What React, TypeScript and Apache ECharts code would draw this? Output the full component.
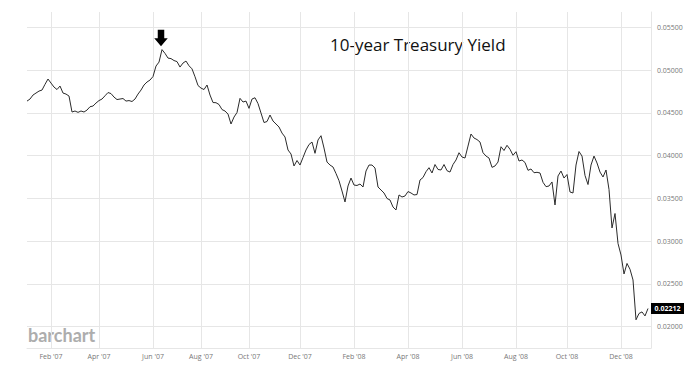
import React, { useEffect, useRef } from "react";
import * as echarts from "echarts";

const dates: string[] = [
  "2007-01-03","2007-01-08","2007-01-11","2007-01-15","2007-01-18","2007-01-22","2007-01-25","2007-01-29",
  "2007-02-01","2007-02-05","2007-02-08","2007-02-12","2007-02-15","2007-02-20","2007-02-23","2007-02-27",
  "2007-03-02","2007-03-06","2007-03-09","2007-03-13","2007-03-16","2007-03-20","2007-03-23","2007-03-28",
  "2007-04-02","2007-04-05","2007-04-09","2007-04-12","2007-04-16","2007-04-19","2007-04-23","2007-04-26","2007-04-30",
  "2007-05-03","2007-05-07","2007-05-10","2007-05-14","2007-05-17","2007-05-21","2007-05-24","2007-05-28","2007-05-30",
  "2007-06-01","2007-06-05","2007-06-09","2007-06-12","2007-06-16","2007-06-20","2007-06-24","2007-06-28",
  "2007-07-01","2007-07-05","2007-07-09","2007-07-13","2007-07-16","2007-07-20","2007-07-24","2007-07-28",
  "2007-08-01","2007-08-05","2007-08-09","2007-08-12","2007-08-16","2007-08-20","2007-08-24","2007-08-28","2007-08-31",
  "2007-09-04","2007-09-08","2007-09-12","2007-09-15","2007-09-19","2007-09-23","2007-09-27",
  "2007-10-01","2007-10-05","2007-10-08","2007-10-12","2007-10-16","2007-10-19","2007-10-23","2007-10-27","2007-10-30",
  "2007-11-03","2007-11-07","2007-11-10","2007-11-14","2007-11-18","2007-11-21","2007-11-25","2007-11-29",
  "2007-12-03","2007-12-06","2007-12-10","2007-12-13","2007-12-16","2007-12-20","2007-12-23","2007-12-27","2007-12-30",
  "2008-01-02","2008-01-06","2008-01-09","2008-01-13","2008-01-16","2008-01-19","2008-01-23","2008-01-26","2008-01-29",
  "2008-02-01","2008-02-04","2008-02-08","2008-02-11","2008-02-14","2008-02-18","2008-02-21","2008-02-24","2008-02-28",
  "2008-03-02","2008-03-05","2008-03-09","2008-03-12","2008-03-15","2008-03-19","2008-03-22","2008-03-25","2008-03-29",
  "2008-04-01","2008-04-04","2008-04-08","2008-04-11","2008-04-15","2008-04-18","2008-04-22","2008-04-25","2008-04-29",
  "2008-05-02","2008-05-06","2008-05-09","2008-05-13","2008-05-16","2008-05-20","2008-05-23","2008-05-27","2008-05-30",
  "2008-06-02","2008-06-05","2008-06-09","2008-06-12","2008-06-15","2008-06-19","2008-06-22","2008-06-25","2008-06-29",
  "2008-07-02","2008-07-05","2008-07-09","2008-07-12","2008-07-15","2008-07-19","2008-07-22","2008-07-25","2008-07-29",
  "2008-08-01","2008-08-05","2008-08-08","2008-08-12","2008-08-15","2008-08-19","2008-08-22","2008-08-26","2008-08-29",
  "2008-09-02","2008-09-05","2008-09-09","2008-09-12","2008-09-16","2008-09-19","2008-09-23","2008-09-26",
  "2008-10-01","2008-10-04","2008-10-08","2008-10-11","2008-10-15","2008-10-18","2008-10-21","2008-10-25","2008-10-28",
  "2008-11-01","2008-11-04","2008-11-07","2008-11-11","2008-11-14","2008-11-18","2008-11-21","2008-11-24","2008-11-28",
  "2008-12-01","2008-12-04","2008-12-08","2008-12-11","2008-12-14","2008-12-18","2008-12-21","2008-12-24","2008-12-28","2008-12-31",
  "2009-01-03",
];

const yields: number[] = [
  0.04638, 0.04662, 0.04709, 0.04732, 0.04755, 0.04767, 0.04834, 0.04896, 0.04849, 0.04802,
  0.04773, 0.04814, 0.04732, 0.0472, 0.04697, 0.0451, 0.04522, 0.04506, 0.04522, 0.0451,
  0.04533, 0.04572, 0.0458, 0.04615, 0.04644, 0.04662, 0.047, 0.04738, 0.04726, 0.04685,
  0.04656, 0.04662, 0.04668, 0.04638, 0.04644, 0.04633, 0.04662, 0.0472, 0.04767, 0.04826,
  0.04861, 0.04884, 0.04925, 0.05048, 0.05094, 0.0524, 0.05196, 0.05141, 0.05135, 0.05112,
  0.051, 0.05036, 0.05083, 0.05106, 0.05051, 0.05015, 0.04923, 0.0482, 0.0479, 0.04773,
  0.04826, 0.04709, 0.04621, 0.04619, 0.04598, 0.04539, 0.04522, 0.04486, 0.0437, 0.04451,
  0.04504, 0.0467, 0.04627, 0.04638, 0.04553, 0.04662, 0.04677, 0.04609, 0.04498, 0.04387,
  0.04399, 0.04475, 0.04405, 0.0437, 0.04335, 0.04264, 0.04218, 0.04066, 0.04019, 0.03879,
  0.03943, 0.0389, 0.03978, 0.04066, 0.0413, 0.04159, 0.04027, 0.04183, 0.04233, 0.04089,
  0.03925, 0.0389, 0.03867, 0.03791, 0.03707, 0.03586, 0.03458, 0.03645, 0.03738, 0.03656,
  0.03651, 0.03668, 0.03633, 0.0382, 0.0389, 0.0389, 0.03855, 0.03633, 0.03598, 0.03563,
  0.03499, 0.03481, 0.03399, 0.03364, 0.0354, 0.03516, 0.03528, 0.0358, 0.03563, 0.0354,
  0.03545, 0.03715, 0.03744, 0.03812, 0.03859, 0.03797, 0.03896, 0.03838, 0.03832, 0.03896,
  0.03824, 0.03808, 0.03896, 0.03949, 0.04034, 0.03984, 0.03972, 0.04112, 0.04253, 0.04206,
  0.04188, 0.04159, 0.04034, 0.03995, 0.03972, 0.03863, 0.03879, 0.03925, 0.04104, 0.0406,
  0.04121, 0.04074, 0.04004, 0.04046, 0.03937, 0.03949, 0.0392, 0.03828, 0.03844, 0.038,
  0.03805, 0.03797, 0.03688, 0.03637, 0.03645, 0.03692, 0.03423, 0.03762, 0.0382, 0.03738,
  0.03779, 0.03575, 0.03563, 0.0389, 0.04048, 0.03995, 0.03768, 0.03662, 0.0389, 0.03995,
  0.03914, 0.03808, 0.0375, 0.03832, 0.03604, 0.03154, 0.03323, 0.02973, 0.02838, 0.02616,
  0.02739, 0.02671, 0.02546, 0.0208, 0.02154, 0.02172, 0.02125, 0.02212,
];

const yTicks: number[] = [0.02, 0.025, 0.03, 0.035, 0.04, 0.045, 0.05, 0.055];
const monthNames: string[] = ["Jan", "Feb", "Mar", "Apr", "May", "Jun", "Jul", "Aug", "Sep", "Oct", "Nov", "Dec"];
const titleText = "10-year Treasury Yield";
const watermarkText = "barchart";
const peakIndex = 45;

const monthOf = (d: string) => Number(d.slice(5, 7));
const isLabelIdx = (i: number) =>
  i > 0 && monthOf(dates[i]) !== monthOf(dates[i - 1]) && monthOf(dates[i]) % 2 === 0;

const GRID = "#e6e6e6";

export default function App() {
  const ref = useRef<HTMLDivElement>(null);
  useEffect(() => {
    if (!ref.current) return;
    const chart = echarts.init(ref.current, undefined, { renderer: "svg" });
    const last = yields.length - 1;
    chart.setOption({
      animation: false,
      backgroundColor: "#ffffff",
      grid: { left: 27, right: 49, top: 12, bottom: 25 },
      xAxis: {
        type: "category",
        data: dates,
        boundaryGap: false,
        axisLine: { show: true, lineStyle: { color: GRID, width: 1 } },
        axisTick: { show: false, interval: (i: number) => isLabelIdx(i) },
        axisLabel: {
          interval: (i: number) => isLabelIdx(i),
          formatter: (v: string) => monthNames[monthOf(v) - 1] + " '" + v.slice(2, 4),
          fontFamily: "Open Sans",
          fontSize: 7,
          color: "#777777",
          margin: 5,
        },
        splitLine: { show: true, interval: (i: number) => isLabelIdx(i), lineStyle: { color: GRID, width: 1 } },
      },
      yAxis: {
        type: "value",
        position: "right",
        min: 0.0175,
        max: 0.0568,
        axisLine: { show: true, lineStyle: { color: GRID, width: 1 } },
        axisTick: { show: false, customValues: yTicks },
        axisLabel: {
          customValues: yTicks,
          formatter: (v: number) => v.toFixed(5),
          fontFamily: "Open Sans",
          fontSize: 7,
          color: "#777777",
          margin: 6,
        },
        splitLine: { show: true, lineStyle: { color: GRID, width: 1 } },
      },
      series: [
        {
          type: "line",
          data: yields,
          symbol: "none",
          lineStyle: { color: "#2b2b2b", width: 1 },
          markPoint: {
            silent: true,
            data: [
              {
                coord: [dates[last + 1], yields[last]],
                value: yields[last],
                symbol: "rect",
                symbolSize: [33, 11],
                symbolOffset: [16.5, 0],
                itemStyle: { color: "#000000" },
                label: {
                  show: true,
                  position: "inside",
                  formatter: () => yields[last].toFixed(5),
                  color: "#ffffff",
                  fontFamily: "Open Sans",
                  fontWeight: "bold",
                  fontSize: 7,
                },
              },
              {
                coord: [dates[peakIndex], yields[peakIndex]],
                value: yields[peakIndex],
                symbol: "path://M3.5 0 L10 0 L10 8.5 L13.5 8.5 L6.75 16.5 L0 8.5 L3.5 8.5 Z",
                symbolSize: [13.5, 16.5],
                symbolOffset: [-1, -11.5],
                itemStyle: { color: "#000000" },
                label: { show: false },
              },
            ],
          },
        },
      ],
      graphic: [
        {
          type: "text",
          left: 330,
          top: 36,
          style: {
            text: titleText,
            fontFamily: "Open Sans",
            fontSize: 17,
            fill: "#111111",
          },
        },
        {
          type: "text",
          left: 28,
          top: 326,
          style: {
            text: watermarkText,
            fontFamily: "Lato",
            fontWeight: "bold",
            fontSize: 18,
            fill: "#adadad",
          },
        },
      ],
    });
    return () => chart.dispose();
  }, []);
  return (
    <div
      ref={ref}
      style={{ position: "fixed", left: 0, top: 0, width: 700, height: 373, background: "#fff" }}
    />
  );
}
